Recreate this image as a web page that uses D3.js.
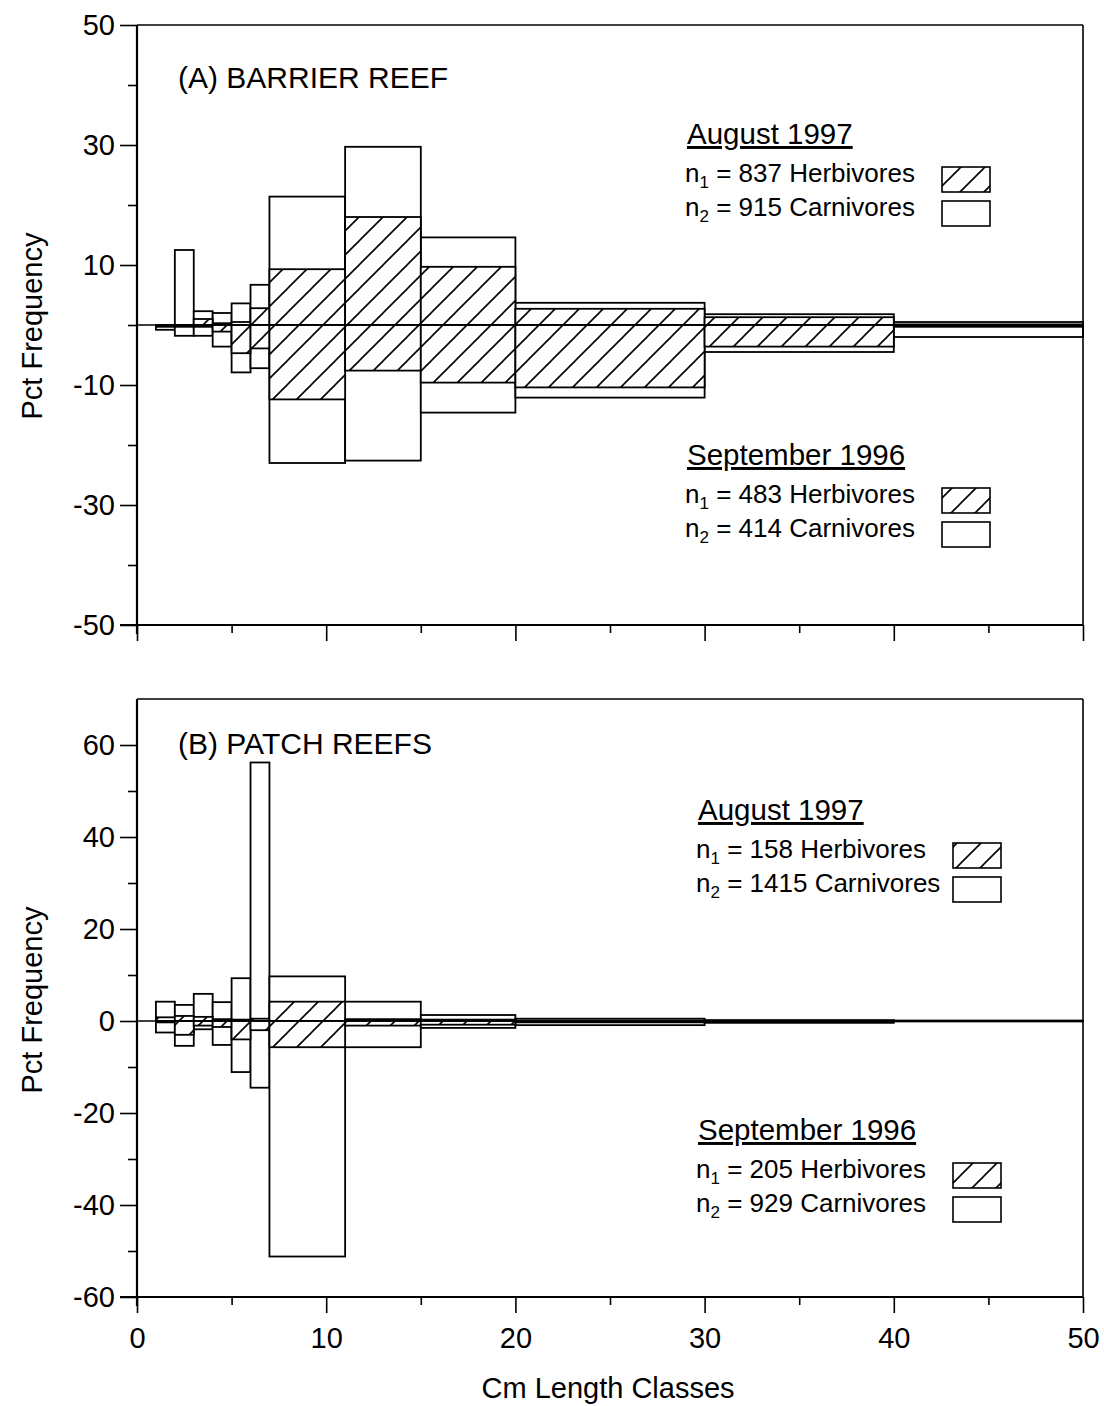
<!doctype html>
<html>
<head>
<meta charset="utf-8">
<script src="https://d3js.org/d3.v7.min.js"></script>
<style>
  body { margin: 0; background: #fff; }
  svg text { font-family: "Liberation Sans", Arial, sans-serif; fill: #000; }
</style>
</head>
<body>
<div id="chart"></div>
<script>
// length classes (cm)
var binStart = [1, 2, 3, 4, 5, 6, 7, 11, 15, 20, 30, 40];
var binEnd   = [2, 3, 4, 5, 6, 7, 11, 15, 20, 30, 40, 50];

// (A) barrier reef, pct frequency; Aug 1997 plotted up, Sept 1996 plotted down
var augHerbA = [0, 0, 1.0, 0.3, 0.5, 2.8, 9.3, 18.0, 9.7, 2.7, 1.3, 0.1];
var augCarnA = [0, 12.5, 2.3, 2.0, 3.6, 6.7, 21.4, 29.7, 14.6, 3.7, 1.8, 0.5];
var sepHerbA = [0.3, 0.3, 0.3, 1.1, 4.7, 3.9, 12.4, 7.6, 9.6, 10.4, 3.6, 0.3];
var sepCarnA = [0.8, 1.8, 1.8, 3.6, 7.9, 7.2, 23.0, 22.6, 14.6, 12.1, 4.5, 2.0];

// (B) patch reefs
var augHerbB = [0.8, 1.1, 0.9, 0.4, 0.3, 0.5, 4.2, 0.4, 0.3, 0.1, 0, 0];
var augCarnB = [4.2, 3.5, 5.9, 4.1, 9.3, 56.2, 9.7, 4.2, 1.3, 0.5, 0.2, 0.1];
var sepHerbB = [0.3, 3.0, 1.0, 1.3, 4.0, 2.0, 5.7, 1.0, 0.8, 0.3, 0.1, 0];
var sepCarnB = [2.5, 5.4, 1.8, 5.2, 11.1, 14.5, 51.2, 5.7, 1.5, 0.9, 0.4, 0.1];

var xTicks = [0, 10, 20, 30, 40, 50];
var xMinor = [5, 15, 25, 35, 45];

var width = 1104, height = 1406;
var left = 137, right = 1083;
var fmt = function(d) { return String(d); };   // plain hyphen minus, as in the original

var svg = d3.select("#chart").append("svg")
    .attr("width", width)
    .attr("height", height);

var defs = svg.append("defs");
var pat = defs.append("pattern")
    .attr("id", "hatch")
    .attr("patternUnits", "userSpaceOnUse")
    .attr("width", 24)
    .attr("height", 24);
pat.append("rect").attr("width", 24).attr("height", 24).attr("fill", "#fff");
pat.append("path")
    .attr("d", "M-2,26 L26,-2 M-4,4 L4,-4 M20,28 L28,20")
    .attr("stroke", "#000")
    .attr("stroke-width", 1.6);

var x = d3.scaleLinear().domain([0, 50]).range([left, right]);

function panel(opt) {
    var y = d3.scaleLinear().domain(opt.domain).range([opt.bottom, opt.top]);
    var g = svg.append("g");

    // bars: carnivores (open) behind herbivores (hatched)
    var rows = binStart.map(function(d, i) {
        return { x0: d, x1: binEnd[i],
                 ac: opt.augCarn[i], ah: opt.augHerb[i],
                 sc: opt.sepCarn[i], sh: opt.sepHerb[i] };
    });

    function bars(key, sign, fill) {
        g.selectAll(null)
            .data(rows.filter(function(d) { return d[key] > 0; }))
            .enter().append("rect")
            .attr("x", function(d) { return x(d.x0); })
            .attr("width", function(d) { return x(d.x1) - x(d.x0); })
            .attr("y", function(d) { return sign > 0 ? y(d[key]) : y(0); })
            .attr("height", function(d) { return Math.abs(y(0) - y(d[key] * sign)); })
            .attr("fill", fill)
            .attr("stroke", "#000")
            .attr("stroke-width", 1.8);
    }
    bars("ac", 1, "#fff");
    bars("sc", -1, "#fff");
    bars("ah", 1, "url(#hatch)");
    bars("sh", -1, "url(#hatch)");

    // zero line
    g.append("line")
        .attr("x1", left).attr("x2", right)
        .attr("y1", y(0)).attr("y2", y(0))
        .attr("stroke", "#000").attr("stroke-width", 1.6);

    // frame
    g.append("line").attr("x1", left).attr("x2", right)
        .attr("y1", opt.top).attr("y2", opt.top)
        .attr("stroke", "#000").attr("stroke-width", 1.4);
    g.append("line").attr("x1", right).attr("x2", right)
        .attr("y1", opt.top).attr("y2", opt.bottom)
        .attr("stroke", "#000").attr("stroke-width", 1.6);

    // y axis: labelled ticks + minor ticks
    var yAxis = d3.axisLeft(y).tickValues(opt.yTicks).tickSize(17).tickPadding(5)
        .tickFormat(fmt);
    var ya = g.append("g").attr("transform", "translate(" + left + ",0)").call(yAxis);
    var yAxisMinor = d3.axisLeft(y).tickValues(opt.yMinor).tickSize(9).tickFormat("");
    var ym = g.append("g").attr("transform", "translate(" + left + ",0)").call(yAxisMinor);
    [ya, ym].forEach(function(a) {
        a.selectAll(".tick line").attr("stroke-width", 1.6);
    });
    ym.select(".domain").remove();
    ya.selectAll(".tick text")
        .attr("font-size", 29)
        .attr("font-family", "Liberation Sans, Arial, sans-serif");
    ya.select(".domain").attr("d", "M0," + opt.top + "V" + (opt.bottom + 9))
        .attr("stroke-width", 2.2);

    // x axis
    var xAxis = d3.axisBottom(x).tickValues(xTicks).tickSize(16).tickPadding(14)
        .tickFormat(opt.xLabels ? fmt : "");
    var xa = g.append("g").attr("transform", "translate(0," + opt.bottom + ")").call(xAxis);
    var xAxisMinor = d3.axisBottom(x).tickValues(xMinor).tickSize(8).tickFormat("");
    var xm = g.append("g").attr("transform", "translate(0," + opt.bottom + ")").call(xAxisMinor);
    xm.select(".domain").remove();
    xa.select(".domain").attr("d", "M" + (left - 17) + ",0H" + right).attr("stroke-width", 2);
    xa.selectAll(".tick line").attr("stroke-width", 1.6);
    xm.selectAll(".tick line").attr("stroke-width", 1.6);
    xa.selectAll(".tick text")
        .attr("font-size", 29)
        .attr("font-family", "Liberation Sans, Arial, sans-serif");

    // y label
    svg.append("text")
        .attr("transform", "translate(42," + opt.labelY + ") rotate(-90)")
        .attr("text-anchor", "middle")
        .attr("font-size", 29)
        .text("Pct Frequency");

    // panel title
    svg.append("text")
        .attr("x", 178).attr("y", opt.titleY)
        .attr("font-size", 30)
        .text(opt.title);

    // legends
    opt.legends.forEach(function(L) {
        svg.append("text")
            .attr("x", L.x).attr("y", L.y)
            .attr("font-size", 29.5)
            .attr("text-decoration", "underline")
            .text(L.head);
        L.rows.forEach(function(r, k) {
            var yy = L.y + 38 + k * 34;
            var t = svg.append("text")
                .attr("x", L.x - 2).attr("y", yy)
                .attr("font-size", 26);
            t.append("tspan").text("n");
            t.append("tspan").attr("font-size", 17).attr("dy", 6).text(String(k + 1));
            t.append("tspan").attr("dy", -6).text(" = " + r);
            svg.append("rect")
                .attr("x", L.bx).attr("y", yy - 15)
                .attr("width", 48).attr("height", 25)
                .attr("fill", k === 0 ? "url(#hatch)" : "#fff")
                .attr("stroke", "#000").attr("stroke-width", 1.6);
        });
    });
}

panel({
    domain: [-50, 50], top: 25, bottom: 625,
    yTicks: [50, 30, 10, -10, -30, -50], yMinor: [40, 20, 0, -20, -40],
    augHerb: augHerbA, augCarn: augCarnA, sepHerb: sepHerbA, sepCarn: sepCarnA,
    xLabels: false, labelY: 326, titleY: 88, title: "(A) BARRIER REEF",
    legends: [
        { head: "August 1997", x: 687, y: 144, bx: 942,
          rows: ["837 Herbivores", "915 Carnivores"] },
        { head: "September 1996", x: 687, y: 465, bx: 942,
          rows: ["483 Herbivores", "414 Carnivores"] }
    ]
});

panel({
    domain: [-60, 70], top: 699, bottom: 1297,
    yTicks: [60, 40, 20, 0, -20, -40, -60], yMinor: [50, 30, 10, -10, -30, -50],
    augHerb: augHerbB, augCarn: augCarnB, sepHerb: sepHerbB, sepCarn: sepCarnB,
    xLabels: true, labelY: 1000, titleY: 754, title: "(B) PATCH REEFS",
    legends: [
        { head: "August 1997", x: 698, y: 820, bx: 953,
          rows: ["158 Herbivores", "1415 Carnivores"] },
        { head: "September 1996", x: 698, y: 1140, bx: 953,
          rows: ["205 Herbivores", "929 Carnivores"] }
    ]
});

svg.append("text")
    .attr("x", (left + right) / 2 - 2).attr("y", 1398)
    .attr("text-anchor", "middle")
    .attr("font-size", 29)
    .text("Cm Length Classes");
</script>
</body>
</html>
